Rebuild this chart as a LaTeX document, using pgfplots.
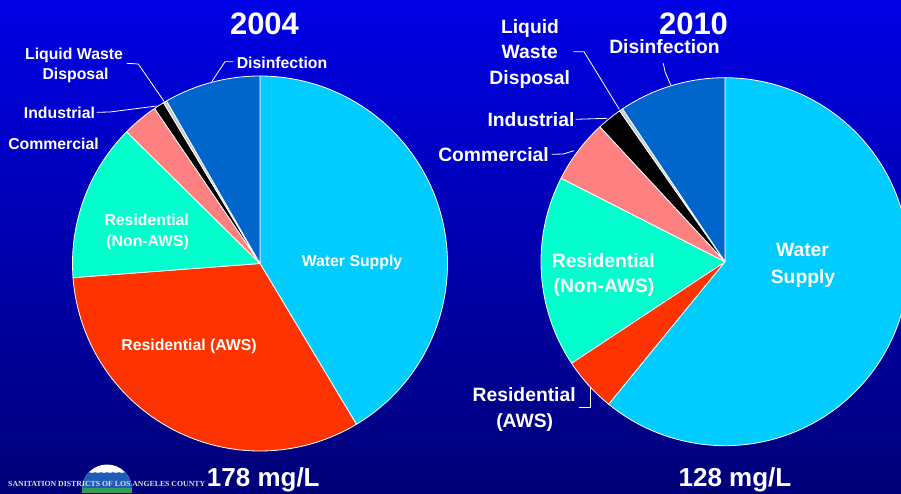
\documentclass[border=0pt]{standalone}
\usepackage{pgfplots}
\usepackage{pgfplotstable}
\pgfplotsset{compat=1.18}
\usepackage{fontspec}
\setmainfont{Liberation Sans}
\newfontfamily\logofont{Liberation Serif}

\definecolor{cwater}{HTML}{00CCFF}
\definecolor{caws}{HTML}{FF3300}
\definecolor{cnonaws}{HTML}{00FFCC}
\definecolor{ccomm}{HTML}{FF8080}
\definecolor{cind}{HTML}{000000}
\definecolor{clwd}{HTML}{C8C8C8}
\definecolor{cdis}{HTML}{0066CC}
\definecolor{bgtop}{HTML}{0000E6}
\definecolor{bgbot}{HTML}{000078}
\definecolor{logogreen}{HTML}{2E9E5A}
\definecolor{logoblue}{HTML}{1E5CB8}

% share of salt load in percent, clockwise from 12 o'clock
\pgfplotstableread{
source        share col
WaterSupply   41.4  cwater
ResAWS        32.4  caws
ResNonAWS     13.6  cnonaws
Commercial     3.1  ccomm
Industrial     0.9  cind
LiquidWaste    0.3  clwd
Disinfection   8.3  cdis
}\piefour

\pgfplotstableread{
source        share col
WaterSupply   60.9  cwater
ResAWS         4.8  caws
ResNonAWS     16.8  cnonaws
Commercial     5.6  ccomm
Industrial     2.2  cind
LiquidWaste    0.3  clwd
Disinfection   9.4  cdis
}\pieten

% #1 table, #2 cx, #3 cy, #4 radius
\newcommand\drawpie[4]{%
  \pgfplotstablegetrowsof{#1}%
  \pgfmathtruncatemacro\pielast{\pgfplotsretval-1}%
  \def\piecum{0}%
  \pgfplotsforeachungrouped \i in {0,...,\pielast}{%
    \pgfplotstablegetelem{\i}{share}\of#1\let\pieshare\pgfplotsretval
    \pgfplotstablegetelem{\i}{col}\of#1\let\piecol\pgfplotsretval
    \pgfmathsetmacro\pieA{90-3.6*\piecum}%
    \pgfmathsetmacro\pieB{90-3.6*(\piecum+\pieshare)}%
    \edef\pietmp{\noexpand\addplot[fill=\piecol, draw=white, line width=0.8pt,
        line join=round, domain=\pieB:\pieA, samples=100]
      ({#2+#4*cos(x)}, {#3+#4*sin(x)}) -- (axis cs:#2,#3) -- cycle;}%
    \pietmp
    \pgfmathsetmacro\piecum{\piecum+\pieshare}%
  }%
}

\tikzset{
  lblA/.style={anchor=base, text=white, inner sep=0pt, font=\fontsize{15.8}{18}\selectfont\bfseries},
  lblB/.style={anchor=base, text=white, inner sep=0pt, font=\fontsize{19.3}{22}\selectfont\bfseries},
  ttl/.style={anchor=base, text=white, inner sep=0pt, font=\fontsize{31}{36}\selectfont\bfseries},
  conc/.style={anchor=base, text=white, inner sep=0pt, font=\fontsize{26}{30}\selectfont\bfseries},
  lead/.style={white, line width=0.8pt},
}

\begin{document}
\begin{tikzpicture}
\fill[top color=bgtop, bottom color=bgbot] (0,0) rectangle (901pt,493pt);

\begin{axis}[
    at={(0,0)}, anchor=south west,
    scale only axis, width=901pt, height=493pt,
    xmin=0, xmax=901, ymin=0, ymax=493,
    hide axis, clip=true,
]
\drawpie{\piefour}{260}{229.5}{187.5}
\drawpie{\pieten}{725}{231.3}{184}

% 2004
\node[ttl] at (axis cs:264.5,458) {2004};
\node[lblA] at (axis cs:74,433.7) {Liquid Waste};
\node[lblA] at (axis cs:75.5,413) {Disposal};
\node[lblA] at (axis cs:282,424.7) {Disinfection};
\node[lblA] at (axis cs:59.5,374.7) {Industrial};
\node[lblA] at (axis cs:53.5,343) {Commercial};
\node[lblA] at (axis cs:146.7,267) {Residential};
\node[lblA] at (axis cs:147.7,246.3) {(Non-AWS)};
\node[lblA] at (axis cs:352,226.3) {Water Supply};
\node[lblA] at (axis cs:189,143) {Residential (AWS)};
\node[conc] at (axis cs:263.3,7) {178 mg/L};
\draw[lead] (axis cs:126.7,429.7) -- (axis cs:138.3,429) -- (axis cs:164.3,391.3);
\draw[lead] (axis cs:96.7,380.7) -- (axis cs:110,381) -- (axis cs:156.7,387);
\draw[lead] (axis cs:233.3,431.3) -- (axis cs:225,431.3) -- (axis cs:211.7,411.3);

% 2010
\node[ttl] at (axis cs:693.5,458) {2010};
\node[lblB] at (axis cs:530,459.7) {Liquid};
\node[lblB] at (axis cs:529.7,434) {Waste};
\node[lblB] at (axis cs:529.7,408) {Disposal};
\node[lblB] at (axis cs:664.5,439) {Disinfection};
\node[lblB] at (axis cs:531,366.3) {Industrial};
\node[lblB] at (axis cs:493.5,331.3) {Commercial};
\node[lblB] at (axis cs:802.5,236.3) {Water};
\node[lblB] at (axis cs:803,209.7) {Supply};
\node[lblB] at (axis cs:603.3,225.7) {Residential};
\node[lblB] at (axis cs:604,200.3) {(Non-AWS)};
\node[lblB] at (axis cs:524.2,92) {Residential};
\node[lblB] at (axis cs:524.7,65.3) {(AWS)};
\node[conc] at (axis cs:735,6.3) {128 mg/L};
\draw[lead] (axis cs:573.3,441.3) -- (axis cs:584,441.3) -- (axis cs:619.3,383.7);
\draw[lead] (axis cs:663.3,429.7) -- (axis cs:665,421.3) -- (axis cs:670.7,408);
\draw[lead] (axis cs:575.7,373.7) -- (axis cs:607.3,374.7);
\draw[lead] (axis cs:551.7,338.7) -- (axis cs:563.3,339) -- (axis cs:574,342.3);
\draw[lead] (axis cs:579,85.7) -- (axis cs:590,85.7) -- (axis cs:590,105.7);
\end{axis}

% logo
\begin{scope}
  \clip (107pt,3.5pt) circle (25pt);
  \fill[white] (80pt,0pt) rectangle (134pt,30pt);
  \fill[logoblue] (80pt,5pt) -- (80pt,20pt)
     \foreach \k in {0,...,8} { -- ++(3pt,0.8pt) -- ++(3pt,-0.8pt) }
     -- (134pt,5pt) -- cycle;
  \fill[logogreen] (80pt,0pt) rectangle (134pt,5pt);
\end{scope}
\node[anchor=base west, inner sep=0pt, text=white!88!black]
  at (8pt,7pt) {\resizebox{197pt}{!}{\logofont\bfseries\fontsize{7.6}{8}\selectfont SANITATION DISTRICTS OF LOS ANGELES COUNTY}};

\pgfresetboundingbox
\path[use as bounding box] (0,0) rectangle (901pt,493pt);
\end{tikzpicture}
\end{document}
